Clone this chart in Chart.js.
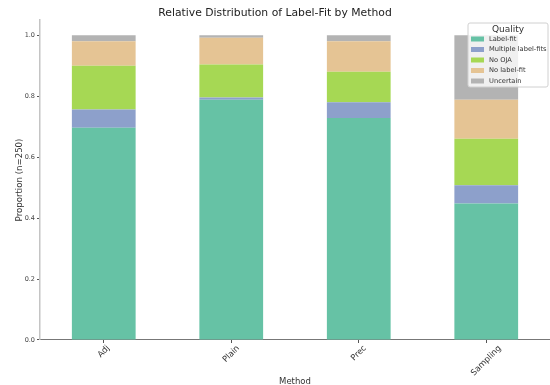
<!DOCTYPE html>
<html><head><meta charset="utf-8">
<script src="https://cdn.jsdelivr.net/npm/chart.js@4"></script>
<style>html,body{margin:0;padding:0;background:#fff}#wrap{width:550px;height:385px}</style>
</head><body><div id="wrap"><canvas id="c"></canvas></div>
<script>
const categories = ['Adj', 'Plain', 'Prec', 'Sampling'];
const seriesNames = ['Label-fit', 'Multiple label-fits', 'No OJA', 'No label-fit', 'Uncertain'];
const labelFit = [0.696, 0.788, 0.728, 0.448];
const multipleLabelFits = [0.060, 0.008, 0.052, 0.060];
const noOJA = [0.144, 0.108, 0.100, 0.152];
const noLabelFit = [0.080, 0.088, 0.100, 0.128];
const uncertain = [0.020, 0.008, 0.020, 0.212];
const yTicks = [0.0, 0.2, 0.4, 0.6, 0.8, 1.0];
const colors = ['#66c2a5', '#8da0cb', '#a6d854', '#e5c494', '#b3b3b3'];

const FONT = 'DejaVu Sans';
const seriesValues = [labelFit, multipleLabelFits, noOJA, noLabelFit, uncertain];

const xLabelPlugin = {
  id: 'xLabels',
  afterDraw(chart) {
    const ctx = chart.ctx, xs = chart.scales.x;
    ctx.save();
    const fs = 8.3;
    ctx.font = fs + 'px "' + FONT + '"';
    ctx.fillStyle = '#333';
    ctx.textAlign = 'center';
    ctx.textBaseline = 'middle';
    categories.forEach((c, i) => {
      const x = xs.getPixelForTick(i);
      const w = ctx.measureText(c).width;
      const bb = (w + fs) * Math.SQRT1_2;
      const y = xs.top + 4 + bb / 2;
      ctx.save();
      ctx.translate(x, y);
      ctx.rotate(-Math.PI / 4);
      ctx.fillText(c, 0, 0);
      ctx.restore();
    });
    ctx.restore();
  }
};

const legendPlugin = {
  id: 'boxLegend',
  afterDraw(chart) {
    const ctx = chart.ctx;
    const x0 = 468, y0 = 23, w = 80, h = 64;
    ctx.save();
    ctx.beginPath();
    if (ctx.roundRect) ctx.roundRect(x0, y0, w, h, 2); else ctx.rect(x0, y0, w, h);
    ctx.fillStyle = 'rgba(255,255,255,0.8)';
    ctx.fill();
    ctx.strokeStyle = '#d0d0d0';
    ctx.lineWidth = 1;
    ctx.stroke();
    ctx.fillStyle = '#333';
    ctx.font = '9px "' + FONT + '"';
    ctx.textAlign = 'center';
    ctx.textBaseline = 'middle';
    ctx.fillText('Quality', x0 + w / 2, y0 + 6.5);
    ctx.font = '6.7px "' + FONT + '"';
    ctx.textAlign = 'left';
    chart.data.datasets.forEach((ds, i) => {
      const yy = y0 + 16 + i * 10.5;
      ctx.fillStyle = ds.backgroundColor;
      ctx.fillRect(x0 + 3, yy - 2.5, 13, 5);
      ctx.fillStyle = '#333';
      ctx.fillText(ds.label, x0 + 21, yy);
    });
    ctx.restore();
  }
};

new Chart(document.getElementById('c'), {
  type: 'bar',
  data: {
    labels: categories,
    datasets: seriesNames.map((n, i) => ({
      label: n,
      data: seriesValues[i],
      backgroundColor: colors[i],
      borderWidth: 0,
      barPercentage: 0.5,
      categoryPercentage: 1.0
    }))
  },
  options: {
    responsive: true,
    maintainAspectRatio: false,
    animation: false,
    layout: { padding: { left: 0, right: 0, top: 0, bottom: 0 } },
    plugins: {
      legend: { display: false },
      tooltip: { enabled: false },
      title: {
        display: true,
        text: 'Relative Distribution of Label-Fit by Method',
        color: '#222',
        font: { family: FONT, size: 10.8, weight: 'normal' },
        padding: { top: 6.5, bottom: 0.5 }
      }
    },
    scales: {
      x: {
        stacked: true,
        afterFit(s) { s.height = 45; },
        grid: { drawOnChartArea: false, drawTicks: true, tickLength: 3, color: '#555', offset: false },
        border: { display: true, color: '#777', width: 1 },
        ticks: { display: false },
        title: {
          display: true, text: 'Method', color: '#333',
          font: { family: FONT, size: 8.5 },
          padding: { top: 0, bottom: -2 }
        }
      },
      y: {
        stacked: true,
        min: 0,
        max: 1.05,
        afterFit(s) { s.width = 40; },
        afterBuildTicks(s) { s.ticks = yTicks.map(v => ({ value: v })); },
        grid: { drawOnChartArea: false, drawTicks: true, tickLength: 3, color: '#555' },
        border: { display: true, color: '#c4c4c4', width: 1.5 },
        ticks: {
          color: '#444',
          font: { family: FONT, size: 6.5 },
          padding: 2,
          callback: v => Number(v).toFixed(1)
        },
        title: {
          display: true, text: 'Proportion (n=250)', color: '#333',
          font: { family: FONT, size: 8.6 },
          padding: { top: 15, bottom: 0 }
        }
      }
    }
  },
  plugins: [xLabelPlugin, legendPlugin]
});
</script>
</body></html>
